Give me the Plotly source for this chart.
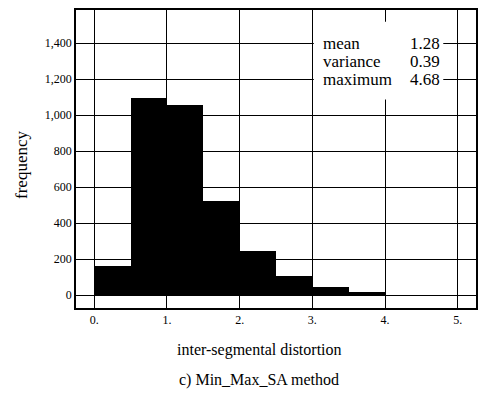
import plotly.graph_objects as go

bin_left = [0.0, 0.5, 1.0, 1.5, 2.0, 2.5, 3.0, 3.5]
counts = [160, 1095, 1059, 521, 245, 107, 46, 15]
bin_width = 0.5
x_ticks = [0, 1, 2, 3, 4, 5]
x_tick_labels = ["0.", "1.", "2.", "3.", "4.", "5."]
y_ticks = [0, 200, 400, 600, 800, 1000, 1200, 1400]
stat_names = ["mean", "variance", "maximum"]
stat_values = ["1.28", "0.39", "4.68"]

centers = [b + bin_width / 2 for b in bin_left]

fig = go.Figure()
fig.add_trace(go.Bar(x=centers, y=counts, width=bin_width,
                     marker=dict(color="black", line=dict(width=0)),
                     showlegend=False))

serif = "Liberation Serif"
fig.update_layout(
    width=491, height=409,
    margin=dict(l=76, r=15, t=8, b=101),
    paper_bgcolor="white", plot_bgcolor="white",
    bargap=0,
    font=dict(family=serif, color="black"),
    xaxis=dict(range=[-0.25, 5.25], tickvals=x_ticks, ticktext=x_tick_labels,
               showgrid=True, gridcolor="black", gridwidth=1.2,
               showline=True, linecolor="black", linewidth=1.5, mirror=True,
               zeroline=False, ticks="", tickfont=dict(size=12, family=serif)),
    yaxis=dict(range=[-72, 1585], tickvals=y_ticks, tickformat=",",
               showgrid=True, gridcolor="black", gridwidth=1.2,
               showline=True, linecolor="black", linewidth=1.5, mirror=True,
               zeroline=False, ticks="", tickfont=dict(size=12, family=serif)),
)

# stats box
fig.add_shape(type="rect", xref="x", yref="y", x0=3.02, x1=4.8, y0=1088, y1=1520,
              fillcolor="white", line=dict(width=0), layer="above")
ys = [1400, 1300, 1200]
for name, val, yv in zip(stat_names, stat_values, ys):
    fig.add_annotation(x=3.12, y=yv, xref="x", yref="y", text=name, showarrow=False,
                       xanchor="left", yanchor="middle", font=dict(size=17, family=serif))
    fig.add_annotation(x=4.78, y=yv, xref="x", yref="y", text=val, showarrow=False,
                       xanchor="right", yanchor="middle", font=dict(size=17, family=serif))

fig.add_annotation(x=-0.135, y=0.48, xref="paper", yref="paper", text="frequency",
                   textangle=-90, showarrow=False, xanchor="center", yanchor="middle",
                   font=dict(size=17, family=serif))
fig.add_annotation(x=0.4575, y=-0.14, xref="paper", yref="paper",
                   text="inter-segmental distortion", showarrow=False,
                   xanchor="center", yanchor="middle", font=dict(size=16, family=serif))
fig.add_annotation(x=0.4575, y=-0.24, xref="paper", yref="paper",
                   text="c) Min_Max_SA method", showarrow=False,
                   xanchor="center", yanchor="middle", font=dict(size=16, family=serif))

fig.write_html("out.html", config={"displayModeBar": False},
               post_script="document.body.style.margin='0';")
